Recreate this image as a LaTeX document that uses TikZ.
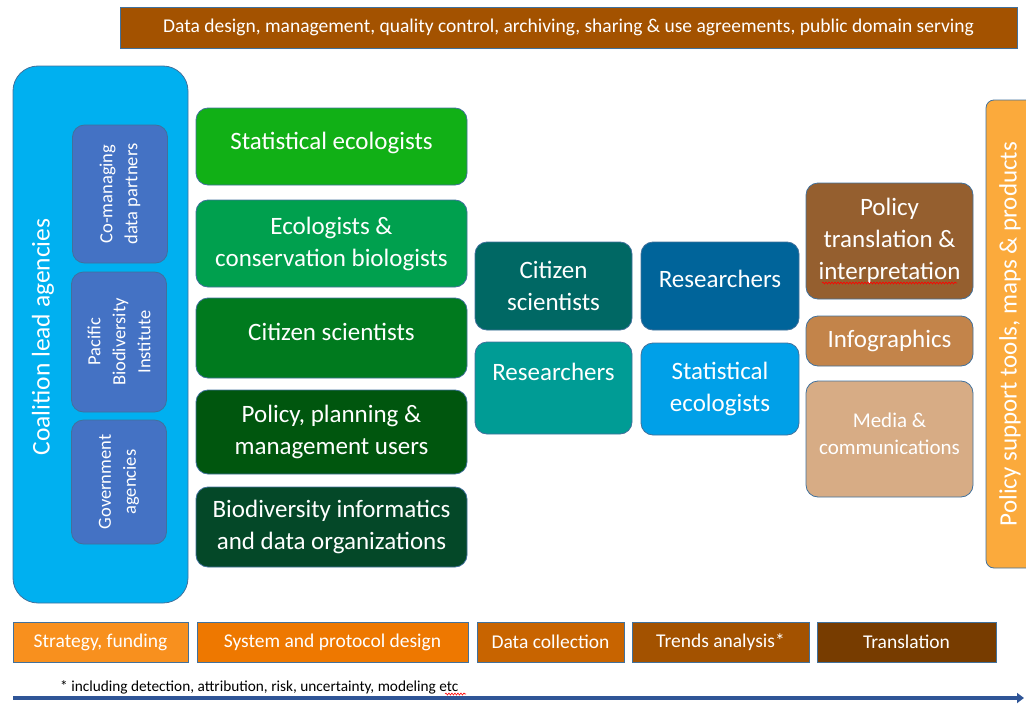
\documentclass[tikz,border=0pt]{standalone}
\usepackage{fontspec}
\setmainfont{Carlito}
\usetikzlibrary{arrows.meta,decorations.pathmorphing}

\definecolor{edgeblue}{HTML}{41719C}
\definecolor{datafill}{HTML}{A35200}
\definecolor{leadfill}{HTML}{00B0F0}
\definecolor{partfill}{HTML}{4472C4}
\definecolor{grA}{HTML}{11B016}
\definecolor{grB}{HTML}{00A04E}
\definecolor{grC}{HTML}{007A1E}
\definecolor{grD}{HTML}{00560E}
\definecolor{grE}{HTML}{044828}
\definecolor{tlA}{HTML}{006864}
\definecolor{tlB}{HTML}{009C95}
\definecolor{blA}{HTML}{00649A}
\definecolor{blB}{HTML}{00A0E8}
\definecolor{brA}{HTML}{955F2F}
\definecolor{brB}{HTML}{C3844A}
\definecolor{brC}{HTML}{D7AC85}
\definecolor{toolfill}{HTML}{FBAA3C}
\definecolor{stA}{HTML}{F8901E}
\definecolor{stB}{HTML}{EE7800}
\definecolor{stC}{HTML}{C86400}
\definecolor{stD}{HTML}{A35200}
\definecolor{stE}{HTML}{773C00}
\definecolor{flowblue}{HTML}{2F5597}

\begin{document}
\begin{tikzpicture}[
  x=1pt, y=-1pt,
  font=\fontsize{25}{32}\selectfont,
  card/.style={rounded corners=12pt, draw=edgeblue, line width=0.8pt, text=white, align=center, inner sep=2pt},
  part/.style={card, fill=partfill, rotate=90, minimum height=95pt, font=\fontsize{18.5}{25}\selectfont},
  band/.style={draw=edgeblue, line width=0.8pt, text=white, minimum height=40pt, font=\fontsize{19.5}{22}\selectfont},
  squiggle/.style={red, line width=0.6pt, decorate, decoration={snake, amplitude=1pt, segment length=3pt}},
]
  \useasboundingbox (0,0) rectangle (1026,704);

  % data management bar
  \node[band, fill=datafill, minimum width=897pt, minimum height=41pt] (data) at (568.5,27.5)
    {Data design, management, quality control, archiving, sharing \& use agreements, public domain serving};

  % coalition
  \node[card, rounded corners=25pt, fill=leadfill, minimum width=175pt, minimum height=537pt] (lead) at (100.5,334.5) {};
  \node[rotate=90, text=white, font=\fontsize{25.5}{30}\selectfont] (leadlabel) at (43,337) {Coalition lead agencies};
  \node[part, minimum width=138pt] (comanage) at (120,194) {Co-managing\\data partners};
  \node[part, minimum width=140pt] (pbi) at (119,342) {Pacific\\Biodiversity\\Institute};
  \node[part, minimum width=124pt] (gov) at (119,482) {Government\\agencies};

  % data collectors
  \node[card, fill=grA, minimum width=271pt, minimum height=77pt] (statA) at (331.5,146.5) {Statistical ecologists\\[-20pt]\mbox{}};
  \node[card, fill=grB, minimum width=271pt, minimum height=87pt] (ecol) at (331.5,243.5) {Ecologists \&\\conservation biologists};
  \node[card, fill=grC, minimum width=271pt, minimum height=80pt] (citA) at (331.5,338) {Citizen scientists\\[-20pt]\mbox{}};
  \node[card, fill=grD, minimum width=271pt, minimum height=84pt] (users) at (331.5,432) {Policy, planning \&\\management users};
  \node[card, fill=grE, minimum width=271pt, minimum height=80pt] (infor) at (331.5,527) {Biodiversity informatics\\and data organizations};

  \node[card, fill=tlA, minimum width=157pt, minimum height=88pt] (citB) at (553.5,286) {Citizen\\scientists};
  \node[card, fill=tlB, minimum width=157pt, minimum height=92pt] (resA) at (553.5,388) {Researchers\\\mbox{}};

  \node[card, fill=blA, minimum width=158pt, minimum height=88pt] (resB) at (720,286) {Researchers\\[-18pt]\mbox{}};
  \node[card, fill=blB, minimum width=158pt, minimum height=92pt] (statB) at (720,389) {Statistical\\ecologists};

  % translation
  \node[card, fill=brA, minimum width=167pt, minimum height=116pt] (polT) at (889.5,241) {Policy\\translation \&\\interpretation};
  \node[card, fill=brB, minimum width=167pt, minimum height=50pt] (info) at (889.5,341) {Infographics};
  \node[card, fill=brC, minimum width=167pt, minimum height=116pt, font=\fontsize{21}{27}\selectfont] (media) at (889.5,439) {Media \&\\communications\\[-16pt]\mbox{}};
  \draw[squiggle] (822,283) -- (957,283);

  \node[card, rounded corners=8pt, fill=toolfill, rotate=90, minimum width=468pt, minimum height=48pt, font=\fontsize{25}{30}\selectfont] (tools) at (1010,334) {Policy support tools, maps \& products};

  % stages
  \node[band, fill=stA, minimum width=175pt] (strat) at (100.5,642) {Strategy, funding};
  \node[band, fill=stB, minimum width=271pt] (sysd) at (332.5,642) {System and protocol design};
  \node[band, fill=stC, minimum width=147pt] (coll) at (550.5,642) {Data collection};
  \node[band, fill=stD, minimum width=177pt] (trend) at (720.5,642) {Trends analysis*};
  \node[band, fill=stE, minimum width=179pt] (transl) at (906.5,642) {Translation};

  \node[anchor=west, inner sep=0pt, font=\fontsize{15.3}{18}\selectfont] (note) at (60,687)
    {* including detection, attribution, risk, uncertainty, modeling etc};
  \draw[squiggle] (445,694) -- (466,694);

  \coordinate (flowstart) at (13,698);
  \coordinate (flowend) at (1024,698);
  \draw[flowblue, line width=3.5pt, -{Triangle[length=7pt,width=10pt]}] (flowstart) -- (flowend);
\end{tikzpicture}
\end{document}
